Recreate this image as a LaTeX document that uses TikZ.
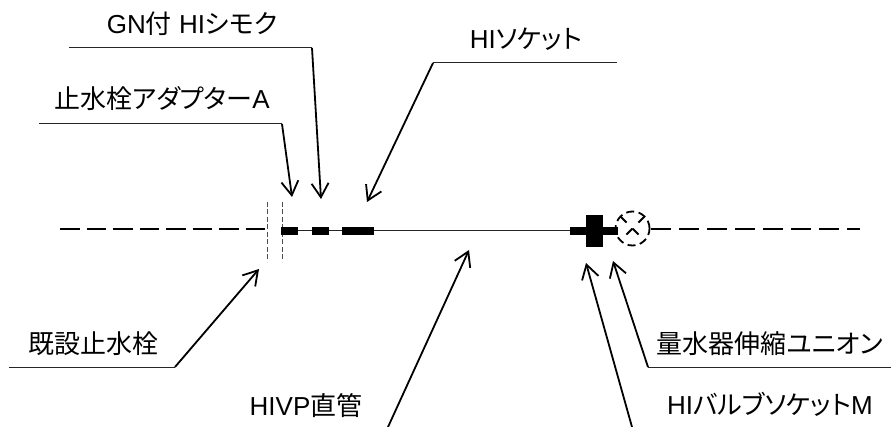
\documentclass[tikz,border=0pt]{standalone}
\usepackage{fontspec}
\setmainfont{Liberation Sans}
\newfontfamily\cjk[RawFeature=+palt]{Noto Sans CJK JP}
\usetikzlibrary{arrows.meta}

\tikzset{
    label text/.style={font=\fontsize{26}{30}\selectfont, inner sep=0pt, anchor=base},
    leader/.style={line width=1pt, black!85},
    pointer/.style={line width=1.8pt, -{Straight Barb[length=14pt,width=17pt,line width=1.8pt]}},
    fitting/.style={fill=black, draw=none}
}

\begin{document}
\begin{tikzpicture}[x=1pt,y=-1pt]
    \useasboundingbox (0,0) rectangle (896,427);

    % pipe runs
    \coordinate (pipeA) at (60,229);
    \coordinate (pipeB) at (266,229);
    \coordinate (pipeC) at (298,231);
    \coordinate (pipeD) at (570,231);
    \coordinate (pipeE) at (651,229);
    \coordinate (pipeF) at (860,229);
    \draw [line width=1.8pt, dash pattern=on 19.5pt off 7pt] (pipeA) -- (pipeB);
    \draw [line width=1pt, black!85] (pipeC) -- (pipeD);
    \draw [line width=1.8pt, dash pattern=on 20pt off 8pt] (pipeE) -- (pipeF);

    % existing stop valve
    \foreach \x in {267,282}
        \draw [line width=0.9pt, black!70, dash pattern=on 5pt off 2.5pt] (\x,202) -- (\x,262);

    % fittings
    \fill[fitting] (281,227) rectangle (298,235);
    \fill[fitting] (312,227) rectangle (329,235);
    \fill[fitting] (342,227) rectangle (374,235);
    \fill[fitting] (570,227) rectangle (618,235);
    \fill[fitting] (586,215) rectangle (603,247);

    % union
    \draw [line width=1.8pt, dash pattern=on 8pt off 4.5pt] (632.5,228.5) circle (17pt);
    \draw [line width=1.8pt, dash pattern=on 8.5pt off 8.5pt] (620.5,216.5) -- (644.5,240.5);
    \draw [line width=1.8pt, dash pattern=on 8.5pt off 8.5pt] (644.5,216.5) -- (620.5,240.5);

    % labels
    \node[label text] (shimoku) at (192,34) {GN{\cjk 付} HI{\cjk シモク}};
    \node[label text] (adapter) at (162,109) {{\cjk 止水栓アダプター}A};
    \node[label text] (socket)  at (526,49) {HI{\cjk ソケット}};
    \node[label text] (valve)   at (93,353) {{\cjk 既設止水栓}};
    \node[label text] (straight) at (306,415) {HIVP{\cjk 直管}};
    \node[label text] (bsocket) at (770,414) {HI{\cjk バルブソケット}M};
    \node[label text] (meter)   at (770,353) {{\cjk 量水器伸縮ユニオン}};

    % leaders
    \coordinate (shimokuL) at (69,48);
    \coordinate (shimokuC) at (312,48);
    \coordinate (shimokuT) at (321,199);
    \coordinate (adapterL) at (39,124);
    \coordinate (adapterC) at (282,124);
    \coordinate (adapterT) at (292,197);
    \coordinate (socketL)  at (617,63);
    \coordinate (socketC)  at (433,63);
    \coordinate (socketT)  at (367,202);
    \coordinate (valveL)   at (9,367);
    \coordinate (valveC)   at (175,367);
    \coordinate (valveT)   at (259,269);
    \coordinate (meterL)   at (891,367);
    \coordinate (meterC)   at (648,367);
    \coordinate (meterT)   at (613,261);
    \coordinate (straightC) at (388,427);
    \coordinate (straightT) at (469,250);
    \coordinate (bsocketC)  at (632,427);
    \coordinate (bsocketT)  at (586,263);

    \draw [leader] (shimokuL) -- (shimokuC);
    \draw [leader] (adapterL) -- (adapterC);
    \draw [leader] (socketL) -- (socketC);
    \draw [leader] (valveL) -- (valveC);
    \draw [leader] (meterL) -- (meterC);

    \draw [pointer] (shimokuC) -- (shimokuT);
    \draw [pointer] (adapterC) -- (adapterT);
    \draw [pointer] (socketC) -- (socketT);
    \draw [pointer] (valveC) -- (valveT);
    \draw [pointer] (meterC) -- (meterT);
    \draw [pointer] (straightC) -- (straightT);
    \draw [pointer] (bsocketC) -- (bsocketT);
\end{tikzpicture}
\end{document}
